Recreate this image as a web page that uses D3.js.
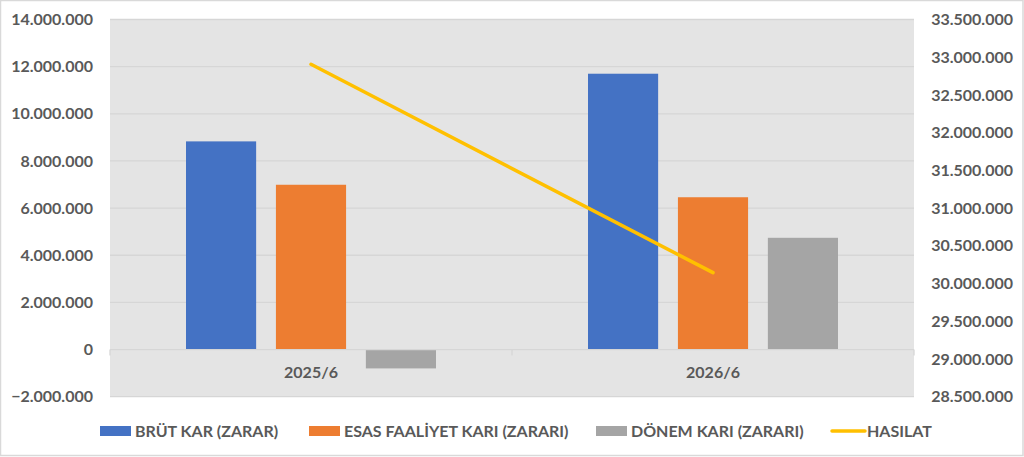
<!DOCTYPE html>
<html><head><meta charset="utf-8">
<script src="https://cdn.jsdelivr.net/npm/d3@7"></script>
<style>
html,body{margin:0;padding:0;background:#fff;}
svg{display:block;}
text{font-family:Lato,"Open Sans",sans-serif;font-weight:bold;fill:#595959;}
</style></head>
<body>
<svg id="chart" width="1024" height="457"></svg>
<script>
const categories = ["2025/6", "2026/6"];
const seriesNames = ["BRÜT KAR (ZARAR)", "ESAS FAALİYET KARI (ZARARI)", "DÖNEM KARI (ZARARI)"];
const brutKar = [8830000, 11700000];
const esasFaaliyet = [6990000, 6460000];
const donemKari = [-800000, 4740000];
const hasilat = [32906000, 30144000];
const lineName = "HASILAT";
const leftTicks = [-2000000, 0, 2000000, 4000000, 6000000, 8000000, 10000000, 12000000, 14000000];
const rightTicks = [28500000, 29000000, 29500000, 30000000, 30500000, 31000000, 31500000, 32000000, 32500000, 33000000, 33500000];
const colors = ["#4472c4", "#ed7d31", "#a5a5a5"];
const lineColor = "#ffc000";

const svg = d3.select("#chart");
const W = 1024, H = 457;
const plot = {l: 110, r: 914, t: 19.5, b: 396.7};

svg.append("rect").attr("x", 0.5).attr("y", 0.5).attr("width", W - 1.5).attr("height", H - 2)
  .attr("fill", "#fff").attr("stroke", "#d9d9d9").attr("stroke-width", 1.5);
svg.append("rect").attr("x", plot.l).attr("y", plot.t).attr("width", plot.r - plot.l).attr("height", plot.b - plot.t)
  .attr("fill", "#e4e4e4");

const y = d3.scaleLinear().domain([-2000000, 14000000]).range([plot.b, plot.t]);
const y2 = d3.scaleLinear().domain([28500000, 33500000]).range([plot.b, plot.t]);
const x0 = d3.scaleBand().domain(categories).range([plot.l, plot.r]).padding(0);
const fmt = v => d3.format(",")(v).replace(/,/g, ".");

// gridlines
svg.append("g").selectAll("line").data(leftTicks.filter(t => t !== 0)).join("line")
  .attr("x1", plot.l).attr("x2", plot.r).attr("y1", d => y(d)).attr("y2", d => y(d))
  .attr("stroke", "#d6d6d6").attr("stroke-width", 1.3);

// left axis labels
svg.append("g").selectAll("text").data(leftTicks).join("text")
  .attr("x", 93).attr("y", d => y(d)).attr("dy", "0.35em").attr("text-anchor", "end")
  .attr("font-size", 16).text(fmt);
// right axis labels
svg.append("g").selectAll("text").data(rightTicks).join("text")
  .attr("x", 1013).attr("y", d => y2(d)).attr("dy", "0.35em").attr("text-anchor", "end")
  .attr("font-size", 16).text(fmt);

// bars
const series = [brutKar, esasFaaliyet, donemKari];
const x1 = d3.scaleBand().domain(d3.range(3)).paddingInner(0.22).paddingOuter(0);
const groups = svg.append("g").selectAll("g").data(categories).join("g");
groups.each(function(cat, ci) {
  const c = x0(cat) + x0.bandwidth() / 2;
  x1.range([c - 125, c + 125]);
  d3.select(this).selectAll("rect").data(series.map((s, si) => ({si, v: s[ci]}))).join("rect")
    .attr("x", d => x1(d.si)).attr("width", x1.bandwidth())
    .attr("y", d => Math.min(y(d.v), y(0))).attr("height", d => Math.abs(y(d.v) - y(0)))
    .attr("fill", d => colors[d.si]);
});

// zero axis line & ticks
svg.append("line").attr("x1", plot.l).attr("x2", plot.r).attr("y1", y(0)).attr("y2", y(0))
  .attr("stroke", "#d6d6d6").attr("stroke-width", 1.3);
const tickXs = [plot.l, x0(categories[1]), plot.r];
svg.append("g").selectAll("line").data(tickXs).join("line")
  .attr("x1", d => d).attr("x2", d => d).attr("y1", y(0)).attr("y2", y(0) + 6)
  .attr("stroke", "#d6d6d6").attr("stroke-width", 1.3);

// category labels
svg.append("g").selectAll("text").data(categories).join("text")
  .attr("x", d => x0(d) + x0.bandwidth() / 2).attr("y", y(0) + 23).attr("dy", "0.35em")
  .attr("text-anchor", "middle").attr("font-size", 16).text(d => d);

// line
const line = d3.line().x((d, i) => x0(categories[i]) + x0.bandwidth() / 2).y(d => y2(d));
svg.append("path").datum(hasilat).attr("d", line).attr("fill", "none")
  .attr("stroke", lineColor).attr("stroke-width", 3.5).attr("stroke-linecap", "round");

// legend
const legY = 431;
const legItems = [
  {name: seriesNames[0], x: 100, type: "rect", color: colors[0]},
  {name: seriesNames[1], x: 309, type: "rect", color: colors[1]},
  {name: seriesNames[2], x: 596, type: "rect", color: colors[2]},
  {name: lineName, x: 832, type: "line", color: lineColor}
];
const leg = svg.append("g").selectAll("g").data(legItems).join("g");
leg.each(function(d) {
  const g = d3.select(this);
  if (d.type === "rect") {
    g.append("rect").attr("x", d.x).attr("y", legY - 5).attr("width", 31).attr("height", 10).attr("fill", d.color);
  } else {
    g.append("line").attr("x1", d.x).attr("x2", d.x + 33).attr("y1", legY).attr("y2", legY)
      .attr("stroke", d.color).attr("stroke-width", 3.5).attr("stroke-linecap", "round");
  }
  g.append("text").attr("x", d.x + 35).attr("y", legY).attr("dy", "0.35em").attr("font-size", 16).text(d.name);
});
</script>
</body></html>
